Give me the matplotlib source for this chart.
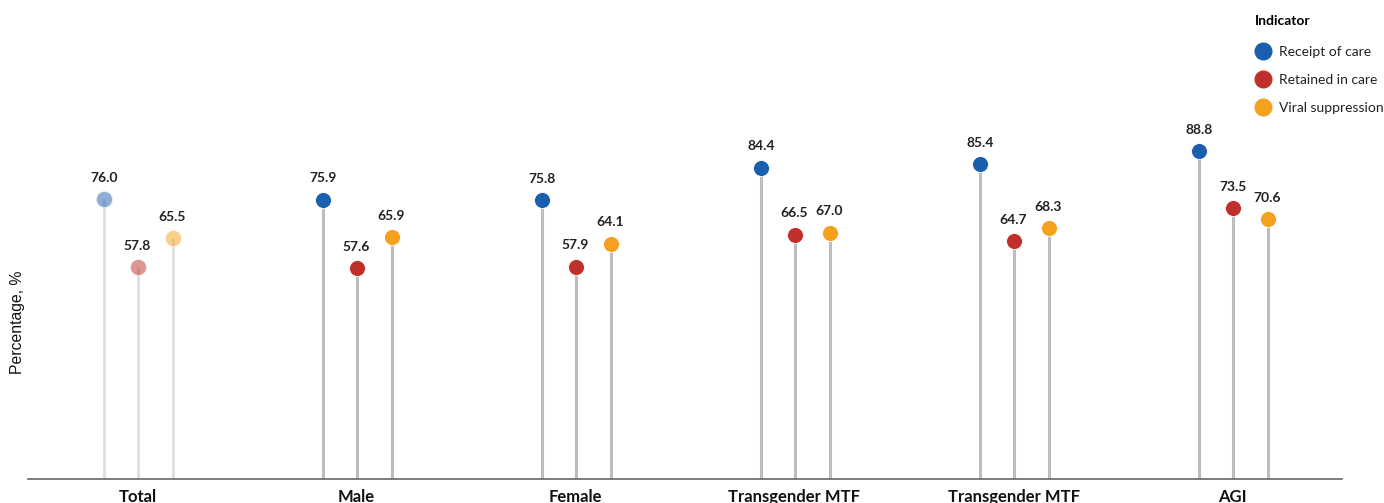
import numpy as np
import matplotlib.pyplot as plt
from matplotlib.lines import Line2D

# data
groups = ["Total", "Male", "Female", "Transgender MTF", "Transgender MTF", "AGI"]
receipt = [76.0, 75.9, 75.8, 84.4, 85.4, 88.8]
retained = [57.8, 57.6, 57.9, 66.5, 64.7, 73.5]
viral = [65.5, 65.9, 64.1, 67.0, 68.3, 70.6]
series_names = ["Receipt of care", "Retained in care", "Viral suppression"]

colors = ["#1a5fad", "#c0302a", "#f5a11f"]
offsets = [-0.152, 0.0, 0.16]

plt.rcParams['font.family'] = ['Lato', 'DejaVu Sans']

fig = plt.figure(figsize=(13.84, 5.03), dpi=100)
ax = fig.add_axes([28 / 1384, 24 / 503, 1314 / 1384, 479 / 503])

x = np.arange(len(groups))
for vals, col, off in zip([receipt, retained, viral], colors, offsets):
    for i, v in enumerate(vals):
        faded = (i == 0)
        alpha = 0.5 if faded else 1.0
        stem_col = "#e0e0e0" if faded else "#bdbdbd"
        ax.plot([x[i] + off, x[i] + off], [0, v], color=stem_col, lw=2.2,
                zorder=1, solid_capstyle='butt')
        ax.plot(x[i] + off, v, 'o', ms=11.5, color=col, alpha=alpha,
                mec='white', mew=0.6, zorder=3)
        ax.annotate(f"{v:.1f}", (x[i] + off, v), xytext=(0, 11),
                    textcoords='offset points', ha='center', va='bottom',
                    fontsize=10, fontweight='bold', color='#222222')

ax.set_xlim(-0.5, 5.5)
ax.set_ylim(1.1, 129.3)
ax.set_xticks(x)
ax.set_xticklabels(groups, fontsize=12, fontweight='bold', color='#111111')
ax.tick_params(axis='x', length=0, pad=7)
ax.set_yticks([])
for s in ['top', 'right', 'left']:
    ax.spines[s].set_visible(False)
ax.spines['bottom'].set_color('#666666')
ax.spines['bottom'].set_linewidth(1.2)

fig.text(18 / 1384, 1 - 322 / 503, "Percentage, %", rotation=90,
         ha='center', va='center', fontsize=11.3, color='#111111',
         family=['Liberation Sans', 'DejaVu Sans'])

handles = [Line2D([], [], marker='o', ls='', ms=12, color=c) for c in colors]
leg = fig.legend(handles, series_names, loc='upper left',
                 bbox_to_anchor=(1249 / 1384, 1 - 9 / 503), frameon=False,
                 title="Indicator", alignment='left', fontsize=10,
                 title_fontproperties={'weight': 'bold', 'size': 10},
                 labelspacing=1.15, handletextpad=0.55, handlelength=1.2,
                 borderaxespad=0)
leg._legend_box.sep = 14
for t in leg.get_texts():
    t.set_color('#222222')

fig.savefig("out.png", dpi=100)
